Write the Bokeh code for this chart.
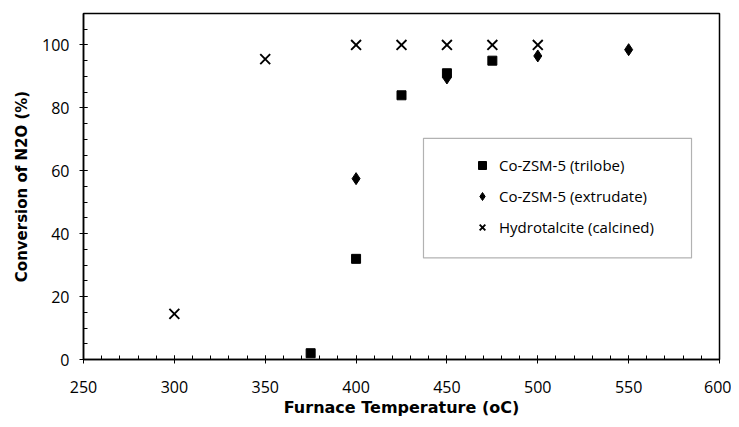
from bokeh.plotting import figure
from bokeh.models import (Range1d, SingleIntervalTicker, Legend, LegendItem,
                          BoxAnnotation)
from bokeh.embed import file_html
from bokeh.resources import INLINE

# ---- data ----
trilobe_x = [375, 400, 425, 450, 475]
trilobe_y = [2, 32, 84, 91, 95]

extrudate_x = [400, 450, 500, 550]
extrudate_y = [57.5, 89.5, 96.5, 98.5]

hydro_x = [300, 350, 400, 425, 450, 475, 500]
hydro_y = [14.5, 95.5, 100, 100, 100, 100, 100]

labels = ["Co-ZSM-5 (trilobe)", "Co-ZSM-5 (extrudate)", "Hydrotalcite (calcined)"]

FONT = "Open Sans"
TITLE_FONT = "DejaVu Sans"

p = figure(width=731, height=423, output_backend="svg", toolbar_location=None,
           x_range=Range1d(250, 600), y_range=Range1d(0, 110),
           min_border_left=83, min_border_right=12, min_border_top=13,
           min_border_bottom=64)
p.background_fill_color = "white"
p.border_fill_color = "white"
p.outline_line_color = "black"
p.outline_line_width = 1.5
p.xgrid.visible = False
p.ygrid.visible = False

p.xaxis.ticker = SingleIntervalTicker(interval=50, num_minor_ticks=5)
p.yaxis.ticker = SingleIntervalTicker(interval=20, num_minor_ticks=4)

for ax in (p.xaxis[0], p.yaxis[0]):
    ax.axis_line_color = "black"
    ax.axis_line_width = 1.5
    ax.major_tick_line_color = "black"
    ax.minor_tick_line_color = "black"
    ax.major_tick_in = 4
    ax.major_tick_out = 4
    ax.minor_tick_in = 4
    ax.minor_tick_out = 0
    ax.major_label_text_font = FONT
    ax.major_label_text_font_size = "16px"
    ax.major_label_text_color = "black"
    ax.axis_label_text_font = TITLE_FONT
    ax.axis_label_text_font_style = "bold"
    ax.axis_label_text_color = "black"

p.xaxis.axis_label = "Furnace Temperature (oC)"
p.yaxis.axis_label = "Conversion of N2O (%)"
p.xaxis.axis_label_text_font_size = "16px"
p.yaxis.axis_label_text_font_size = "15px"
p.xaxis.major_label_standoff = 17
p.xaxis.axis_label_standoff = 2
p.yaxis.major_label_standoff = 10
p.yaxis.axis_label_standoff = 8

r1 = p.scatter(trilobe_x, trilobe_y, marker="square", size=9,
               fill_color="black", line_color="black")
r2 = p.scatter(extrudate_x, extrudate_y, marker="diamond", size=12,
               fill_color="black", line_color="black")
r3 = p.scatter(hydro_x, hydro_y, marker="x", size=14,
               line_color="black", line_width=1.9)

# legend frame (positioned in the plot's data space)
p.add_layout(BoxAnnotation(left=437.1, right=584.6, top=70.3, bottom=32.3,
                           fill_alpha=0, line_color="black", line_width=1.2))

legend = Legend(items=[LegendItem(label=labels[0], renderers=[r1]),
                       LegendItem(label=labels[1], renderers=[r2]),
                       LegendItem(label=labels[2], renderers=[r3])],
                location=(379, 112), margin=0, padding=10,
                glyph_width=20, glyph_height=20, label_height=20,
                spacing=11, label_standoff=7,
                border_line_alpha=0, background_fill_alpha=0,
                label_text_font=FONT, label_text_font_size="15px",
                label_text_color="black")
p.add_layout(legend, "center")

open("out.html", "w").write(file_html(p, INLINE))
